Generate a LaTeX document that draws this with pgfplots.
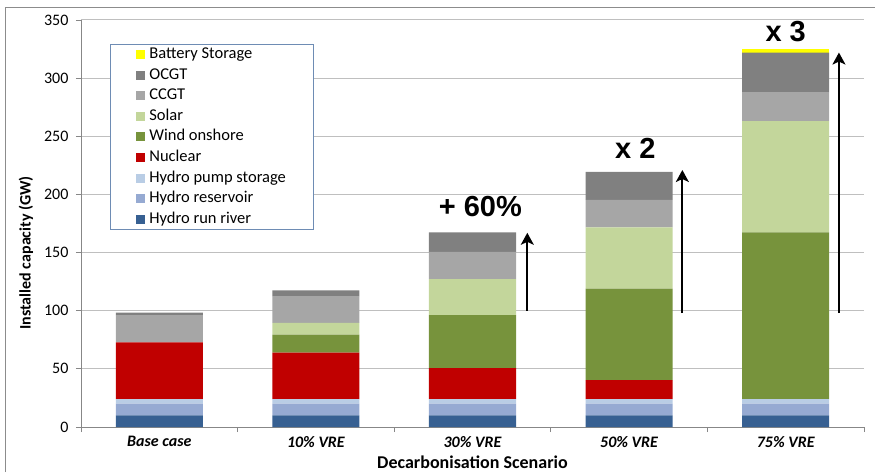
\documentclass[border=0pt]{standalone}
\usepackage{fontspec}
\setmainfont{Carlito}
\newfontfamily\arialfont{Liberation Sans}
\usepackage{pgfplots}
\pgfplotsset{compat=1.18}
\usetikzlibrary{arrows.meta}
\definecolor{cRun}{RGB}{55,96,146}
\definecolor{cRes}{RGB}{150,170,210}
\definecolor{cPump}{RGB}{185,205,229}
\definecolor{cNuc}{RGB}{192,0,0}
\definecolor{cWind}{RGB}{119,147,60}
\definecolor{cSolar}{RGB}{195,214,155}
\definecolor{cCCGT}{RGB}{166,166,166}
\definecolor{cOCGT}{RGB}{128,128,128}
\definecolor{cBatt}{RGB}{255,255,0}
\definecolor{cLegBorder}{RGB}{110,140,180}
\begin{document}
\begin{tikzpicture}
\begin{axis}[
  scale only axis, width=783pt, height=407pt,
  xmin=-0.5, xmax=4.5, ymin=0, ymax=350,
  ybar stacked, bar width=0.556,
  axis x line*=bottom, axis y line*=left,
  axis line style={draw=black!47, line width=0.8pt},
  ymajorgrids, grid style={draw=black!25, line width=1pt},
  ytick={0,50,...,350},
  xtick={-0.5,0.5,1.5,2.5,3.5,4.5}, xticklabels={},
  extra x ticks={0,1,2,3,4},
  extra x tick labels={Base case,10\% VRE,30\% VRE,50\% VRE,75\% VRE},
  extra x tick style={major tick length=0pt, xticklabel style={font=\bfseries\itshape\fontsize{16}{18}\selectfont, yshift=-6pt}},
  tick align=outside, major tick length=5pt,
  tick style={draw=black!47, line width=0.8pt},
  /pgf/number format/assume math mode=true,
  yticklabel style={font=\fontsize{16}{18}\selectfont, xshift=-4pt},
  xlabel={Decarbonisation Scenario},
  ylabel={Installed capacity (GW)},
  every axis x label/.style={at={(axis description cs:0.5,0)}, yshift=-35.5pt, anchor=center, font=\bfseries\fontsize{18}{20}\selectfont},
  every axis y label/.style={at={(axis description cs:0,0.428)}, xshift=-55pt, rotate=90, anchor=center, font=\bfseries\fontsize{16}{18}\selectfont},
  reverse legend,
  legend cell align=left,
  legend image code/.code={\fill[#1] (0pt,-4.5pt) rectangle (9pt,4.5pt);},
  legend style={at={(axis description cs:0.037,0.941)}, anchor=north west,
    draw=cLegBorder, line width=0.8pt, fill=white, inner xsep=26pt, inner ysep=2pt,
    row sep=4.6pt, font=\fontsize{16.5}{18}\selectfont,
    /tikz/column 1/.style={column sep=3pt},
    nodes={inner sep=1pt, text height=11pt, text depth=3pt}},
]
\addplot[fill=cRun, draw=none] coordinates {(0,10) (1,10) (2,10) (3,10) (4,10)};
\addlegendentry{Hydro run river}
\addplot[fill=cRes, draw=none] coordinates {(0,10) (1,10) (2,10) (3,10) (4,10)};
\addlegendentry{Hydro reservoir}
\addplot[fill=cPump, draw=none] coordinates {(0,4) (1,4) (2,4) (3,4) (4,4)};
\addlegendentry{Hydro pump storage}
\addplot[fill=cNuc, draw=none] coordinates {(0,48.8) (1,40) (2,26.7) (3,16.4) (4,0)};
\addlegendentry{Nuclear}
\addplot[fill=cWind, draw=none] coordinates {(0,0) (1,15.5) (2,45.6) (3,78.5) (4,143.4)};
\addlegendentry{Wind onshore}
\addplot[fill=cSolar, draw=none] coordinates {(0,0) (1,10) (2,30.9) (3,52.8) (4,95.7)};
\addlegendentry{Solar}
\addplot[fill=cCCGT, draw=none] coordinates {(0,23.5) (1,23) (2,23.3) (3,23.7) (4,24.9)};
\addlegendentry{CCGT}
\addplot[fill=cOCGT, draw=none] coordinates {(0,2) (1,5.1) (2,16.9) (3,24.1) (4,33.9)};
\addlegendentry{OCGT}
\addplot[fill=cBatt, draw=none] coordinates {(0,0) (1,0) (2,0) (3,0) (4,3.1)};
\addlegendentry{Battery Storage}
\draw[line width=1.8pt, -{Stealth[length=12pt,width=13pt,inset=3pt]}] (axis cs:2.35,100) -- (axis cs:2.35,167);
\draw[line width=1.8pt, -{Stealth[length=12pt,width=13pt,inset=3pt]}] (axis cs:3.34,98) -- (axis cs:3.34,221);
\draw[line width=1.8pt, -{Stealth[length=12pt,width=13pt,inset=3pt]}] (axis cs:4.34,98) -- (axis cs:4.34,322);
\node[font=\arialfont\bfseries\fontsize{29}{31}\selectfont] at (axis cs:2.05,190) {+ 60\%};
\node[font=\arialfont\bfseries\fontsize{29}{31}\selectfont] at (axis cs:3.04,240) {x 2};
\node[font=\arialfont\bfseries\fontsize{29}{31}\selectfont] at (axis cs:4.0,340) {x 3};
\end{axis}
\draw[black!45, line width=0.8pt] (-76pt,-45pt) -- (-76pt,420pt) -- (794pt,420pt);
\pgfresetboundingbox
\useasboundingbox (-81pt,-45pt) rectangle (794pt,427pt);
\end{tikzpicture}
\end{document}
